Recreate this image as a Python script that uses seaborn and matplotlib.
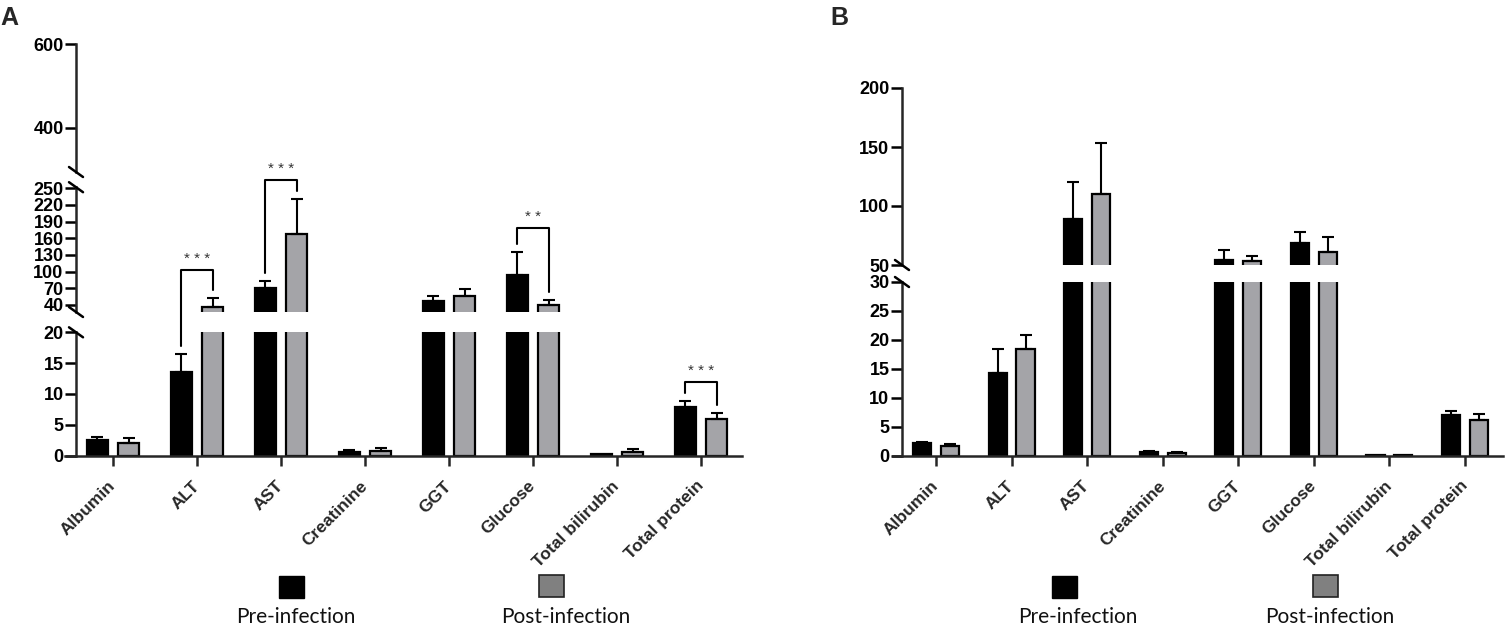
import numpy as np
import pandas as pd
import matplotlib
matplotlib.use("Agg")
import matplotlib.pyplot as plt
import seaborn as sns
from matplotlib.lines import Line2D
from matplotlib.patches import Rectangle

# ---------------- data ----------------
categories = ["Albumin", "ALT", "AST", "Creatinine", "GGT", "Glucose",
              "Total bilirubin", "Total protein"]
groups = ["Pre-infection", "Post-infection"]

# Panel A (mean, SD)
a_pre = [2.55, 13.6, 71, 0.65, 47, 94, 0.35, 7.9]
a_pre_sd = [0.45, 2.9, 12, 0.25, 9, 41, 0.0, 0.9]
a_post = [2.0, 37, 167, 0.8, 56, 40, 0.55, 6.0]
a_post_sd = [0.8, 15, 63, 0.5, 13, 9, 0.6, 0.9]

# Panel B (mean, SD)
b_pre = [2.2, 14.3, 88.7, 0.7, 54, 69, 0.1, 7.0]
b_pre_sd = [0.2, 4.2, 32, 0.12, 8.7, 8.7, 0.0, 0.8]
b_post = [1.75, 18.5, 110, 0.5, 53.6, 61, 0.1, 6.2]
b_post_sd = [0.2, 2.4, 43, 0.1, 4.4, 13, 0.0, 1.0]

# significance brackets in panel A: (category, label, bracket height)
a_sig_cat = [1, 2, 5, 7]
a_sig_label = ["* * *", "* * *", "* *", "* * *"]
a_sig_height = [103, 265, 179, 12.0]

# axis segments: (ymin, ymax, ticks)
a_segments = [(0, 20, [0, 5, 10, 15, 20]),
              (27.4, 252, [40, 70, 100, 130, 160, 190, 220, 250]),
              (293.7, 600, [400, 600])]
b_segments = [(0, 30, [0, 5, 10, 15, 20, 25, 30]),
              (50, 200, [50, 100, 150, 200])]

# ---------------- style ----------------
sns.set_style("ticks")
plt.rcParams["font.family"] = ["Liberation Sans", "DejaVu Sans"]
plt.rcParams["axes.linewidth"] = 1.8
TICK_FONT = ["Liberation Sans", "DejaVu Sans"]

W, H = 1506, 626
fig = plt.figure(figsize=(W / 100, H / 100), dpi=100)
palette = {"Pre-infection": "black", "Post-infection": "#a4a4a8"}


def px_axes(x0, x1, ytop, ybot):
    return fig.add_axes([x0 / W, 1 - ybot / H, (x1 - x0) / W, (ybot - ytop) / H])


def long_df(pre, post):
    return pd.DataFrame({
        "Analyte": categories * 2,
        "Group": [groups[0]] * len(categories) + [groups[1]] * len(categories),
        "Value": list(pre) + list(post),
    })


def draw_panel(boxes, segments, xlim, spine_x, pre, pre_sd, post, post_sd):
    df = long_df(pre, post)
    axes = []
    centers = {}
    for k, (box, (ylo, yhi, ticks)) in enumerate(zip(boxes, segments)):
        ax = px_axes(*box)
        sns.barplot(data=df, x="Analyte", y="Value", hue="Group",
                    order=categories, hue_order=groups, palette=palette,
                    width=0.74, gap=0.35, errorbar=None, edgecolor="black",
                    linewidth=1.6, saturation=1, legend=False, ax=ax)
        for p in ax.patches:
            cx = p.get_x() + p.get_width() / 2
            i = int(round(cx))
            g = 0 if cx < i else 1
            centers[(i, g)] = cx
            sd = (pre_sd if g == 0 else post_sd)[i]
            if sd > 0:
                ax.errorbar(cx, p.get_height(), yerr=[[0], [sd]], fmt="none",
                            ecolor="black", elinewidth=1.5, capsize=4.5,
                            capthick=1.5)
        ax.spines["top"].set_visible(False)
        ax.spines["right"].set_visible(False)
        ax.spines["left"].set_position(("data", spine_x))
        ax.set_xlim(*xlim)
        ax.set_ylim(ylo, yhi)
        ax.set_yticks(ticks)
        ax.set_yticklabels([str(t) for t in ticks], fontweight="bold",
                           fontsize=13, family=TICK_FONT)
        ax.set_xlabel("")
        ax.set_ylabel("")
        ax.tick_params(axis="y", length=8, width=1.8, pad=1, colors="black")
        ax.patch.set_alpha(0)
        if k == 0:
            ax.set_xticks(range(len(categories)))
            ax.set_xticklabels(categories, rotation=45, ha="right",
                               va="center", rotation_mode="anchor",
                               fontweight="bold", fontsize=12.5,
                               family=TICK_FONT)
            ax.tick_params(axis="x", length=7, width=1.8, pad=13)
        else:
            ax.spines["bottom"].set_visible(False)
            ax.set_xticks([])
        axes.append(ax)

    # axis break marks
    for lower, upper in zip(axes[:-1], axes[1:]):
        for ax, yfrac in ((lower, 1), (upper, 0)):
            sx = ax.transData.transform((spine_x, 0))[0]
            sy = ax.transAxes.transform((0, yfrac))[1]
            fig.add_artist(Line2D([(sx - 7) / W, (sx + 7) / W],
                                  [(sy + 5) / H, (sy - 5) / H],
                                  transform=fig.transFigure, color="black",
                                  lw=1.8))
    return axes, centers


def to_disp(axes, x, v, seg=None):
    if seg is None:
        seg = 0
        for k, ax in enumerate(axes):
            lo, hi = ax.get_ylim()
            if v >= lo:
                seg = k
        for k, ax in enumerate(axes):
            lo, hi = ax.get_ylim()
            if lo <= v <= hi:
                seg = k
    return axes[seg].transData.transform((x, v))


# ---------------- panel A ----------------
a_boxes = [(65, 742, 332.3, 455.7), (65, 742, 187.2, 312), (65, 742, 44.3, 172)]
a_axes, a_centers = draw_panel(a_boxes, a_segments, (-0.571, 7.488), -0.44,
                               a_pre, a_pre_sd, a_post, a_post_sd)

for i, lab, hgt in zip(a_sig_cat, a_sig_label, a_sig_height):
    xl, xr = a_centers[(i, 0)], a_centers[(i, 1)]
    seg = 0 if hgt <= 20 else 1
    _, yb = to_disp(a_axes, xl, hgt, seg)
    dl = to_disp(a_axes, xl, a_pre[i] + a_pre_sd[i])
    dr = to_disp(a_axes, xr, a_post[i] + a_post_sd[i])
    xs = [dl[0], dl[0], dr[0], dr[0]]
    ys = [dl[1] + 8, yb, yb, dr[1] + 8]
    fig.add_artist(Line2D([x / W for x in xs], [y / H for y in ys],
                          transform=fig.transFigure, color="black", lw=1.5))
    fig.text((dl[0] + dr[0]) / 2 / W, (yb + 4) / H, lab, ha="center",
             va="bottom", fontsize=11, color="#333333", family=TICK_FONT)

# ---------------- panel B ----------------
b_boxes = [(893, 1503, 282, 455.7), (893, 1503, 88, 265)]
b_axes, b_centers = draw_panel(b_boxes, b_segments, (-0.569, 7.503), -0.45,
                               b_pre, b_pre_sd, b_post, b_post_sd)

# ---------------- legends ----------------
legend_font = ["Lato", "DejaVu Sans"]
for (bx, gx, tpre, tpost) in ((279, 539, 296, 566), (1052, 1313, 1078, 1330)):
    fig.add_artist(Rectangle((bx / W, 1 - 598 / H), 25 / W, 22 / H,
                             transform=fig.transFigure, facecolor="black",
                             edgecolor="black", lw=1.0))
    fig.add_artist(Rectangle((gx / W, 1 - 597 / H), 25 / W, 22 / H,
                             transform=fig.transFigure, facecolor="#808080",
                             edgecolor="#222222", lw=1.2))
    fig.text(tpre / W, 1 - 623 / H, groups[0], ha="center", va="baseline",
             fontsize=15, family=legend_font, color="#111111")
    fig.text(tpost / W, 1 - 623 / H, groups[1], ha="center", va="baseline",
             fontsize=15, family=legend_font, color="#111111")

# panel letters
fig.text(0 / W, 1 - 6 / H, "A", ha="left", va="top", fontsize=18,
         fontweight="bold", family=TICK_FONT)
fig.text(830 / W, 1 - 6 / H, "B", ha="left", va="top", fontsize=18,
         fontweight="bold", family=TICK_FONT)

fig.savefig("out.png", dpi=100)
